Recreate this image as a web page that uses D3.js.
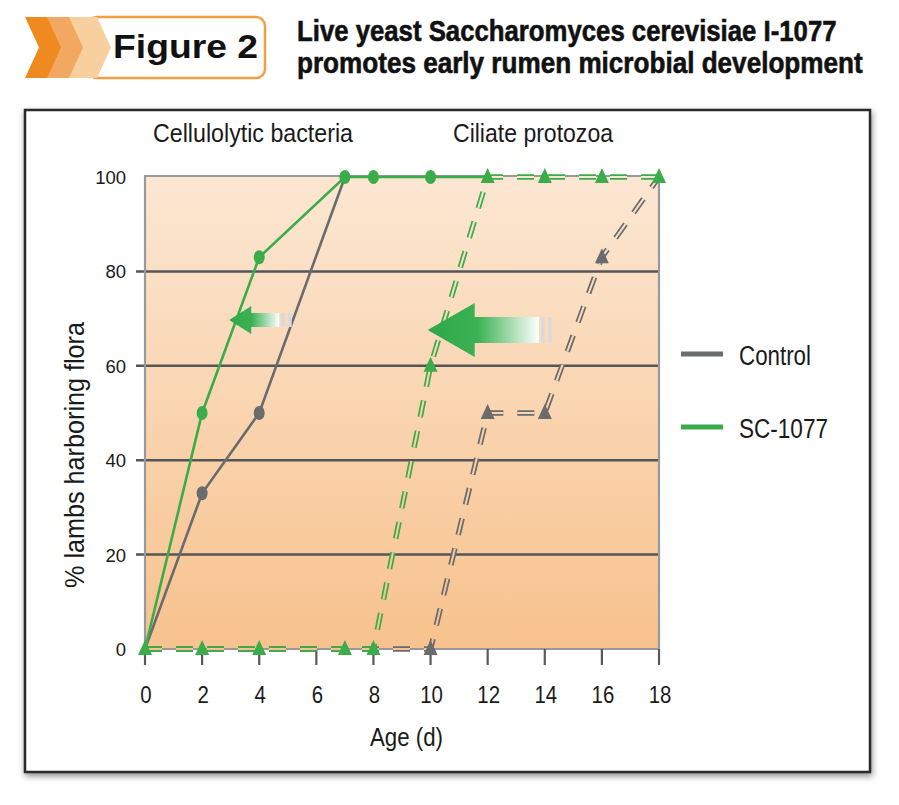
<!DOCTYPE html>
<html>
<head>
<meta charset="utf-8">
<script src="https://cdn.jsdelivr.net/npm/d3@7"></script>
<style>
  body { margin: 0; background: #fff; }
  .narrow { font-family: "Liberation Sans Narrow", "Arial Narrow", "Liberation Sans", Arial, sans-serif; }
  .reg { font-family: "Liberation Sans", Arial, sans-serif; }
</style>
</head>
<body>
<div id="chart"></div>
<script>
var svgWidth = 899;
var svgHeight = 805;

// data
var days = [0, 2, 4, 6, 8, 10, 12, 14, 16, 18];
var yTicks = [0, 20, 40, 60, 80, 100];
var seriesNames = ["Control", "SC-1077"];

var bactControlX = [0, 2, 4, 7];
var bactControlY = [0, 33, 50, 100];
var bactScX = [0, 2, 4, 7, 8, 10, 12];
var bactScY = [0, 50, 83, 100, 100, 100, 100];

var protoControlX = [0, 2, 4, 7, 8, 10, 12, 14, 16, 18];
var protoControlY = [0, 0, 0, 0, 0, 0, 50, 50, 83, 100];
var protoScX = [0, 2, 4, 7, 8, 10, 12, 14, 16, 18];
var protoScY = [0, 0, 0, 0, 0, 60, 100, 100, 100, 100];

// shift arrows: tip [day, %], tail day
var arrowTipX = [2.95, 9.9];
var arrowTipY = [69.7, 67.6];
var arrowTailX = [4.7, 13.8];

var green = "#3bac4a";
var gray = "#6a6b6d";

var svg = d3.select("#chart")
  .append("svg")
  .attr("width", svgWidth)
  .attr("height", svgHeight);

var defs = svg.append("defs");

var plot = { left: 145, right: 659, top: 177, bottom: 649 };

var xScale = d3.scaleLinear().domain([0, 18]).range([plot.left, plot.right]);
var yScale = d3.scaleLinear().domain([0, 100]).range([plot.bottom, plot.top]);

// background gradient, in user space so the inner stroke of double dashes can reuse it
var bg = defs.append("linearGradient")
  .attr("id", "bg")
  .attr("gradientUnits", "userSpaceOnUse")
  .attr("x1", 0).attr("y1", plot.top - 2)
  .attr("x2", 0).attr("y2", plot.bottom);
bg.append("stop").attr("offset", 0).attr("stop-color", "#fce7d3");
bg.append("stop").attr("offset", 1).attr("stop-color", "#f7c28d");

var arrowGrad = defs.append("linearGradient")
  .attr("id", "arrowGrad")
  .attr("x1", 0).attr("y1", 0).attr("x2", 1).attr("y2", 0);
arrowGrad.append("stop").attr("offset", 0).attr("stop-color", "#2ea84a");
arrowGrad.append("stop").attr("offset", 0.45).attr("stop-color", "#3cb153");
arrowGrad.append("stop").attr("offset", 1).attr("stop-color", "#ffffff");

var shadow = defs.append("filter").attr("id", "shadow")
  .attr("x", "-5%").attr("y", "-5%").attr("width", "110%").attr("height", "110%");
shadow.append("feDropShadow")
  .attr("dx", 1).attr("dy", 3).attr("stdDeviation", 3)
  .attr("flood-color", "#000").attr("flood-opacity", 0.45);

// squeeze a text horizontally to a target width (no condensed font installed)
function fitWidth(sel, x, y, target) {
  sel.each(function() {
    var w = this.getComputedTextLength();
    var k = target / w;
    d3.select(this).attr("transform", `translate(${x}, ${y}) scale(${k}, 1)`);
  });
}

// header badge
var chevX = [25, 47, 69];
var chevColors = ["#ee8a1f", "#f3a862", "#f8cf9f"];

svg.append("rect")
  .attr("x", 88).attr("y", 17)
  .attr("width", 177).attr("height", 61)
  .attr("rx", 9)
  .attr("fill", "#fff")
  .attr("stroke", "#f0a040")
  .attr("stroke-width", 2.5);

svg.selectAll(".chev")
  .data(chevX)
  .enter()
  .append("path")
  .attr("class", "chev")
  .attr("d", d => `M${d},17 L${d + 28},17 L${d + 42},47.5 L${d + 28},78 L${d},78 L${d + 14},47.5 Z`)
  .attr("fill", (d, i) => chevColors[i]);

svg.append("text")
  .attr("class", "reg")
  .attr("x", 113).attr("y", 58)
  .attr("font-size", 34)
  .attr("font-weight", "bold")
  .attr("fill", "#111")
  .attr("textLength", 145)
  .attr("lengthAdjust", "spacingAndGlyphs")
  .text("Figure 2");

var titleLines = ["Live yeast Saccharomyces cerevisiae I-1077", "promotes early rumen microbial development"];
var titleWidths = [540, 566];
svg.selectAll(".title")
  .data(titleLines)
  .enter()
  .append("text")
  .attr("class", "title narrow")
  .attr("font-size", 29)
  .attr("font-weight", "bold")
  .attr("fill", "#111")
  .attr("stroke", "#111")
  .attr("stroke-width", 0.6)
  .text(d => d)
  .each(function(d, i) {
    fitWidth(d3.select(this), 297, 41 + i * 32, titleWidths[i]);
  });

// outer frame
svg.append("rect")
  .attr("x", 25).attr("y", 110)
  .attr("width", 845).attr("height", 662)
  .attr("fill", "#fff")
  .attr("stroke", "#2b2b2b")
  .attr("stroke-width", 2.5)
  .attr("filter", "url(#shadow)");

// plot background
svg.append("rect")
  .attr("x", plot.left).attr("y", plot.top)
  .attr("width", plot.right - plot.left)
  .attr("height", plot.bottom - plot.top)
  .attr("fill", "url(#bg)");

// gridlines (inner values) with outward ticks
svg.selectAll(".grid")
  .data(yTicks.filter(d => d > 0 && d < 100))
  .enter()
  .append("line")
  .attr("class", "grid")
  .attr("x1", plot.left - 9).attr("x2", plot.right)
  .attr("y1", d => yScale(d)).attr("y2", d => yScale(d))
  .attr("stroke", "#545557")
  .attr("stroke-width", 2.5);

// plot borders
svg.append("path")
  .attr("d", `M${plot.left},${plot.bottom} V${plot.top - 1} H${plot.right} V${plot.bottom} Z`)
  .attr("fill", "none")
  .attr("stroke", "#98999b")
  .attr("stroke-width", 2.2);

// x axis ticks
svg.selectAll(".xtick")
  .data(days)
  .enter()
  .append("line")
  .attr("class", "xtick")
  .attr("x1", d => xScale(d)).attr("x2", d => xScale(d))
  .attr("y1", plot.bottom).attr("y2", plot.bottom + 16)
  .attr("stroke", "#58595b")
  .attr("stroke-width", 2.2);

// condensed look: squeeze glyphs horizontally
svg.selectAll(".xlab")
  .data(days)
  .enter()
  .append("text")
  .attr("class", "xlab narrow")
  .attr("transform", d => `translate(${xScale(d) + 1}, 703) scale(0.85, 1)`)
  .attr("text-anchor", "middle")
  .attr("font-size", 24)
  .attr("fill", "#1a1a1a")
  .text(d => d);

svg.selectAll(".ylab")
  .data(yTicks)
  .enter()
  .append("text")
  .attr("class", "ylab reg")
  .attr("x", 126)
  .attr("y", d => yScale(d) + 7)
  .attr("text-anchor", "end")
  .attr("font-size", 18.5)
  .attr("fill", "#1a1a1a")
  .text(d => d);

// axis titles and panel labels
svg.append("text")
  .attr("class", "narrow")
  .attr("x", 370).attr("y", 746)
  .attr("font-size", 26)
  .attr("fill", "#1a1a1a")
  .attr("textLength", 73)
  .attr("lengthAdjust", "spacingAndGlyphs")
  .text("Age (d)");

svg.append("text")
  .attr("class", "narrow")
  .attr("transform", "translate(84, 588) rotate(-90)")
  .attr("font-size", 28)
  .attr("fill", "#1a1a1a")
  .attr("textLength", 266)
  .attr("lengthAdjust", "spacingAndGlyphs")
  .text("% lambs harboring flora");

svg.append("text")
  .attr("class", "narrow")
  .attr("x", 153).attr("y", 142)
  .attr("font-size", 25)
  .attr("fill", "#1a1a1a")
  .attr("textLength", 200)
  .attr("lengthAdjust", "spacingAndGlyphs")
  .text("Cellulolytic bacteria");

svg.append("text")
  .attr("class", "narrow")
  .attr("x", 453).attr("y", 142)
  .attr("font-size", 25)
  .attr("fill", "#1a1a1a")
  .attr("textLength", 160)
  .attr("lengthAdjust", "spacingAndGlyphs")
  .text("Ciliate protozoa");

// lines
var line = d3.line()
  .x(d => xScale(d[0]))
  .y(d => yScale(d[1]));

function pairs(xs, ys) {
  return xs.map((x, i) => [x, ys[i]]);
}

function drawDashed(pts, color) {
  svg.append("path")
    .attr("d", line(pts))
    .attr("fill", "none")
    .attr("stroke", color)
    .attr("stroke-width", 5.5)
    .attr("stroke-dasharray", "17,14");
  // hollow centre makes the double-stroke look
  svg.append("path")
    .attr("d", line(pts))
    .attr("fill", "none")
    .attr("stroke", "url(#bg)")
    .attr("stroke-width", 2)
    .attr("stroke-dasharray", "17,14");
}

function drawSolid(pts, color) {
  svg.append("path")
    .attr("d", line(pts))
    .attr("fill", "none")
    .attr("stroke", color)
    .attr("stroke-width", 2.6);
}

function drawTriangles(pts, color) {
  svg.append("g").selectAll("path")
    .data(pts)
    .enter()
    .append("path")
    .attr("d", d => {
      var cx = xScale(d[0]), cy = yScale(d[1]);
      return `M${cx},${cy - 9} L${cx + 7},${cy + 6} L${cx - 7},${cy + 6} Z`;
    })
    .attr("fill", color);
}

function drawDots(pts, color) {
  svg.append("g").selectAll("ellipse")
    .data(pts)
    .enter()
    .append("ellipse")
    .attr("cx", d => xScale(d[0]))
    .attr("cy", d => yScale(d[1]))
    .attr("rx", 5.5)
    .attr("ry", 7)
    .attr("fill", color);
}

var protoControl = pairs(protoControlX, protoControlY);
var protoSc = pairs(protoScX, protoScY);
var bactControl = pairs(bactControlX, bactControlY);
var bactSc = pairs(bactScX, bactScY);

drawDashed(protoControl, gray);
drawTriangles(protoControl.filter(d => d[0] >= 10 && d[0] < 18), gray);
drawSolid(bactControl, gray);
drawDots(bactControl.filter(d => d[0] > 0 && d[0] < 7), gray);

drawDashed(protoSc, green);
drawSolid(bactSc, green);
drawDots(bactSc.filter(d => d[0] > 0 && d[0] < 12), green);
drawTriangles(protoSc, green);

// shift arrows
var headLen = [22, 47];
var headHalf = [14, 27];
var bodyHalf = [7, 13];

arrowTipX.forEach(function(tx, i) {
  var x0 = xScale(tx), y0 = yScale(arrowTipY[i]);
  var x1 = xScale(arrowTailX[i]);
  var hx = x0 + headLen[i];
  var g = svg.append("g");
  g.append("path")
    .attr("d", `M${x0},${y0} L${hx},${y0 - headHalf[i]} L${hx},${y0 - bodyHalf[i]} L${x1},${y0 - bodyHalf[i]} L${x1},${y0 + bodyHalf[i]} L${hx},${y0 + bodyHalf[i]} L${hx},${y0 + headHalf[i]} Z`)
    .attr("fill", "url(#arrowGrad)");
  [3, 10].forEach(function(off) {
    g.append("rect")
      .attr("x", x1 + off - 1).attr("y", y0 - bodyHalf[i])
      .attr("width", 3.5).attr("height", bodyHalf[i] * 2)
      .attr("fill", "#d9dadb");
  });
});

// legend
var legendColors = [gray, green];
var legendWidths = [72, 89];
var legend = svg.selectAll(".legend")
  .data(seriesNames)
  .enter()
  .append("g")
  .attr("class", "legend")
  .attr("transform", (d, i) => `translate(681, ${354 + i * 73})`);

legend.append("line")
  .attr("x1", 0).attr("x2", 42)
  .attr("stroke", (d, i) => legendColors[i])
  .attr("stroke-width", 5);

legend.append("text")
  .attr("class", "narrow")
  .attr("x", 58).attr("y", 11)
  .attr("font-size", 27)
  .attr("fill", "#1a1a1a")
  .attr("textLength", (d, i) => legendWidths[i])
  .attr("lengthAdjust", "spacingAndGlyphs")
  .text(d => d);
</script>
</body>
</html>
